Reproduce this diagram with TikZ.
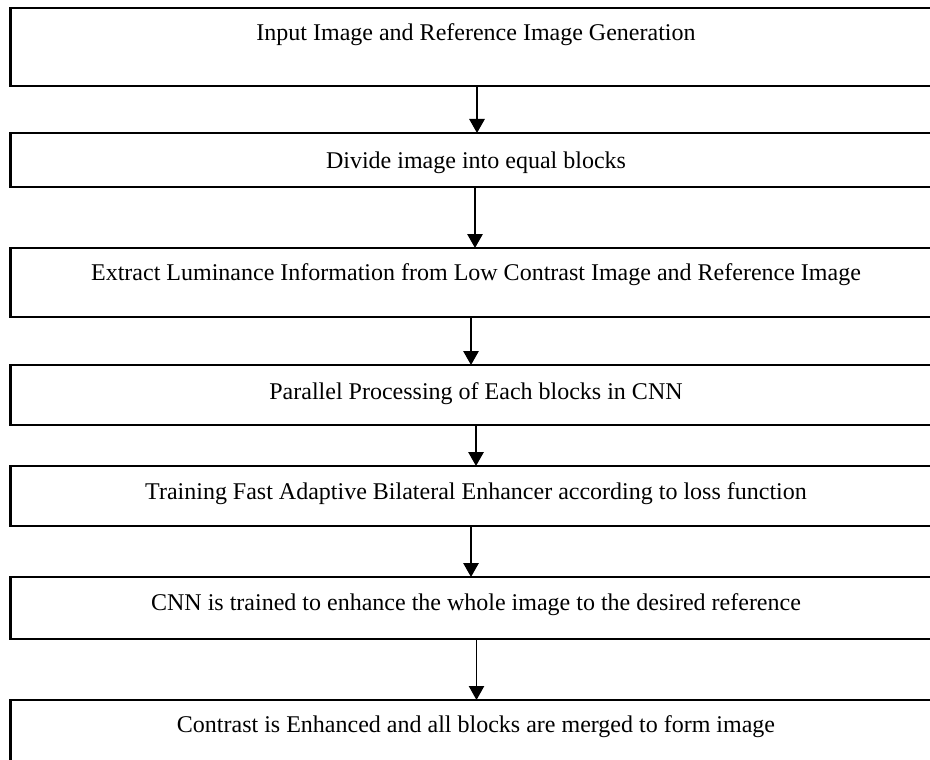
\documentclass[tikz,border=0pt]{standalone}
\usepackage{fontspec}
\setmainfont{Liberation Serif}
\usetikzlibrary{arrows.meta}
\begin{document}
\begin{tikzpicture}[x=0.75pt,y=-0.75pt,
  box/.style={draw=black,line width=1.6pt,rectangle,anchor=north west,inner sep=0pt,outer sep=0pt,minimum width=697.5pt},
  lbl/.style={inner sep=0pt,font=\fontsize{18}{21}\selectfont},
  arr/.style={line width=1.4pt,-{Triangle[width=11.5pt,length=10.5pt]}},
  thinarr/.style={line width=0.9pt,-{Triangle[width=11.5pt,length=10.5pt]}}]
\useasboundingbox (0,0) rectangle (930,759);
\clip (0,0) rectangle (930,759);
% boxes
\node[box,minimum height=58.5pt] (b1) at (10.5,8) {};
\node[box,minimum height=40.5pt] (b2) at (10.5,133) {};
\node[box,minimum height=51.75pt] (b3) at (10.5,248) {};
\node[box,minimum height=45pt] (b4) at (10.5,365) {};
\node[box,minimum height=45pt] (b5) at (10.5,466) {};
\node[box,minimum height=46.5pt] (b6) at (10.5,577) {};
\node[box,minimum height=67.5pt] (b7) at (10.5,700) {};
% labels
\node[lbl] (t1) at (476,35) {Input Image and Reference Image Generation};
\node[lbl] (t2) at (476,163) {Divide image into equal blocks};
\node[lbl] (t3) at (476,275) {Extract Luminance Information from Low Contrast Image and Reference Image};
\node[lbl] (t4) at (476,394) {Parallel Processing of Each blocks in CNN};
\node[lbl] (t5) at (476,494) {Training Fast Adaptive Bilateral Enhancer according to loss function};
\node[lbl] (t6) at (476,605) {CNN is trained to enhance the whole image to the desired reference};
\node[lbl] (t7) at (476,727) {Contrast is Enhanced and all blocks are merged to form image};
% arrow x positions
\coordinate (x1) at (477,0);
\coordinate (x2) at (475,0);
\coordinate (x3) at (471,0);
\coordinate (x4) at (476,0);
\coordinate (x5) at (471,0);
\coordinate (x6) at (476.5,0);
\draw[arr] (b1.south -| x1) -- (b2.north -| x1);
\draw[arr] (b2.south -| x2) -- (b3.north -| x2);
\draw[arr] (b3.south -| x3) -- (b4.north -| x3);
\draw[arr] (b4.south -| x4) -- (b5.north -| x4);
\draw[arr] (b5.south -| x5) -- (b6.north -| x5);
\draw[thinarr] (b6.south -| x6) -- (b7.north -| x6);
\end{tikzpicture}
\end{document}
